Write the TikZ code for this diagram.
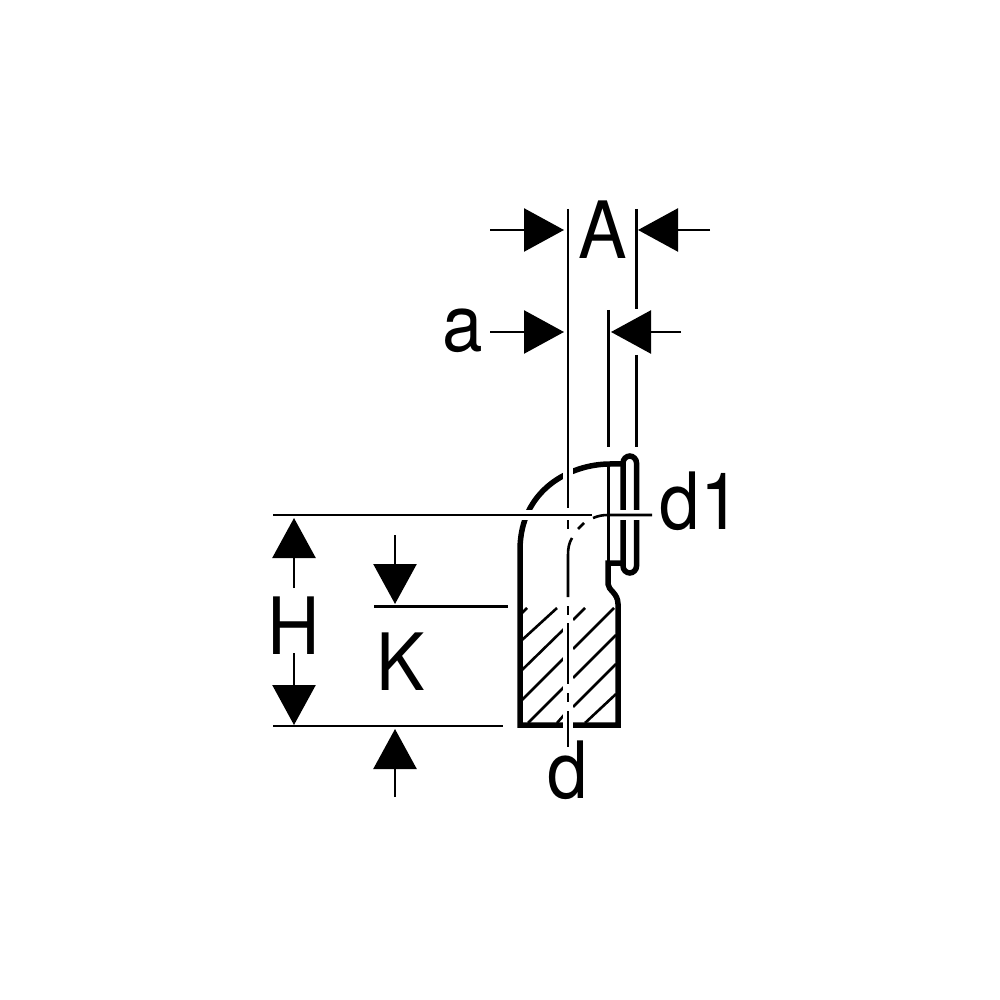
\documentclass[tikz,border=0pt]{standalone}
\usepackage{fontspec}
\setmainfont[FakeStretch=0.92]{TeX Gyre Heros}
\usetikzlibrary{arrows.meta}
\tikzset{
  pen/.style={line width=0.55mm},
  thinline/.style={line width=0.26mm},
  halo/.style={white, line width=1.05mm},
  dimarrow/.style={line width=0.25mm, -{Triangle[length=4mm,width=4.3mm]}},
  label/.style={inner sep=1mm, font=\fontsize{22.5}{22.5}\selectfont}
}
\begin{document}
\begin{tikzpicture}
\useasboundingbox (0,0) rectangle (10,-10);
\foreach \xa/\ya/\xb/\yb in {5.22/-6.13/5.27/-6.08, 5.22/-6.40/5.57/-6.08, 5.22/-6.70/5.64/-6.29, 5.22/-7.00/5.64/-6.58, 5.28/-7.23/5.64/-6.87, 5.57/-7.23/5.64/-7.15, 5.73/-6.20/5.85/-6.08, 5.73/-6.49/6.14/-6.08, 5.73/-6.78/6.16/-6.35, 5.73/-7.07/6.16/-6.64, 5.85/-7.23/6.16/-6.94}
  \draw[thinline] (\xa,\ya) -- (\xb,\yb);
\draw[pen] (5.64,-7.25) -- (5.20,-7.25) -- (5.20,-5.5) .. controls (5.20,-4.9) and (5.7,-4.64) .. (6.1,-4.64) -- (6.23,-4.64);
\draw[pen, rounded corners=0.07cm] (6.23,-4.56) rectangle (6.365,-5.73);
\draw[pen] (6.23,-5.63) -- (6.08,-5.63) -- (6.08,-5.84) .. controls (6.08,-5.9) and (6.18,-5.93) .. (6.18,-6.04) -- (6.18,-7.25) -- (5.73,-7.25);
\draw[halo] (5.2,-5.15) -- (6.5,-5.15);
\draw[halo] (5.68,-4.65) -- (5.68,-4.85);
\draw[halo] (5.68,-6.0) -- (5.68,-7.35);
\draw[thinline] (2.73,-5.15) -- (5.92,-5.15);
\draw[thinline] (5.93,-5.18) .. controls (5.98,-5.16) and (6.02,-5.15) .. (6.08,-5.15) -- (6.52,-5.15);
\draw[thinline] (2.73,-7.26) -- (5.03,-7.26);
\draw[thinline] (3.74,-6.065) -- (5.08,-6.065);
\draw[thinline] (5.68,-2.09) -- (5.68,-5.08);
\draw[thinline] (5.68,-5.20) -- (5.68,-5.29);
\draw[thinline] (5.78,-5.29) -- (5.84,-5.23);
\draw[thinline] (5.72,-5.38) .. controls (5.69,-5.43) and (5.68,-5.48) .. (5.68,-5.55) -- (5.68,-5.97);
\draw[thinline] (5.68,-6.06) -- (5.68,-6.15);
\draw[thinline] (5.68,-6.23) -- (5.68,-6.84);
\draw[thinline] (5.68,-6.93) -- (5.68,-7.02);
\draw[thinline] (5.68,-7.11) -- (5.68,-7.47);
\draw[thinline] (6.085,-3.10) -- (6.085,-4.47);
\draw[thinline] (6.085,-4.67) -- (6.085,-5.63);
\draw[thinline] (6.365,-2.09) -- (6.365,-3.09);
\draw[thinline] (6.365,-3.55) -- (6.365,-4.47);
\node[label] (A) at (6.025,-2.30) {A};
\node[label] (a) at (4.625,-3.31) {a};
\node[label] (d1) at (7.0,-5.01) {d1};
\node[label] (H) at (2.94,-6.26) {H};
\node[label] (K) at (4.01,-6.62) {K};
\node[label] (d) at (5.68,-7.70) {d};
\coordinate (A1) at (4.90,-2.30);
\coordinate (A2) at (5.64,-2.30);
\coordinate (A3) at (7.10,-2.30);
\coordinate (A4) at (6.38,-2.30);
\coordinate (a1) at (4.90,-3.32);
\coordinate (a2) at (5.64,-3.32);
\coordinate (a3) at (6.81,-3.32);
\coordinate (a4) at (6.11,-3.32);
\coordinate (H1) at (2.94,-5.18);
\coordinate (H2) at (2.94,-7.25);
\coordinate (H3) at (2.94,-6.53);
\coordinate (H4) at (2.94,-5.88);
\coordinate (K1) at (3.95,-5.35);
\coordinate (K2) at (3.95,-6.04);
\coordinate (K3) at (3.95,-7.97);
\coordinate (K4) at (3.95,-7.29);
\draw[dimarrow] (A1) -- (A2);
\draw[dimarrow] (A3) -- (A4);
\draw[dimarrow] (a1) -- (a2);
\draw[dimarrow] (a3) -- (a4);
\draw[dimarrow] (H4) -- (H1);
\draw[dimarrow] (H3) -- (H2);
\draw[dimarrow] (K1) -- (K2);
\draw[dimarrow] (K3) -- (K4);
\end{tikzpicture}
\end{document}
